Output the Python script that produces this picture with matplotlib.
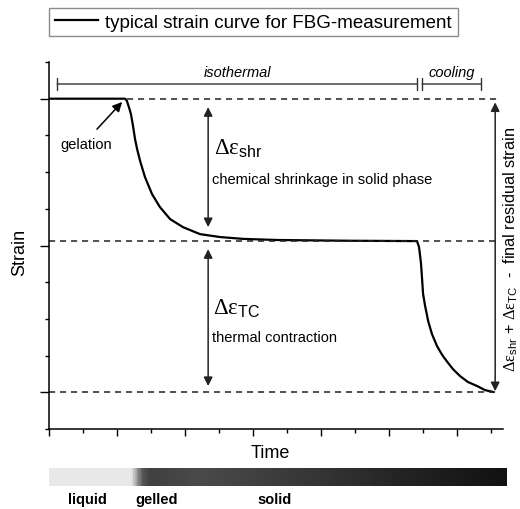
import matplotlib.pyplot as plt
import numpy as np
from matplotlib.colors import LinearSegmentedColormap
from matplotlib.ticker import MultipleLocator

plt.rcParams['font.family'] = ['Liberation Sans', 'DejaVu Sans']
plt.rcParams['mathtext.fontset'] = 'custom'
plt.rcParams['mathtext.rm'] = 'Liberation Serif'
plt.rcParams['mathtext.sf'] = 'Liberation Sans'
plt.rcParams['mathtext.it'] = 'Liberation Serif:italic'

# strain curve (arbitrary units)
time = [0.0, 2.24, 2.29, 2.35, 2.41, 2.47, 2.53, 2.59, 2.68, 2.82, 3.03, 3.26,
        3.56, 3.94, 4.44, 5.03, 5.71, 6.71, 8.80, 10.82,
        10.88, 10.91, 10.94, 10.97, 11.00, 11.06, 11.15, 11.26, 11.41, 11.56,
        11.71, 11.88, 12.09, 12.32, 12.59, 12.82, 13.06]
strain = [9.0, 9.0, 8.94, 8.77, 8.58, 8.26, 7.90, 7.63, 7.30, 6.87, 6.40, 6.05,
          5.72, 5.50, 5.31, 5.23, 5.18, 5.15, 5.13, 5.12,
          4.96, 4.74, 4.50, 4.09, 3.68, 3.35, 2.94, 2.59, 2.26, 2.02,
          1.83, 1.63, 1.44, 1.28, 1.17, 1.06, 1.01]

# reference strain levels
level_start = 9.0
level_cured = 5.12
level_final = 1.0

phase_names = ['isothermal', 'cooling']
phase_spans = [(0.24, 10.82), (10.97, 12.71)]

state_names = ['liquid', 'gelled', 'solid']
state_at = [0.085, 0.236, 0.493]          # fraction along the state bar

# grey level of the state bar (fraction, grey)
bar_stops = [(0.0, 0.91), (0.179, 0.91), (0.19, 0.62), (0.203, 0.33),
             (0.22, 0.25), (0.33, 0.29), (0.55, 0.22), (0.77, 0.14), (1.0, 0.07)]

dark = '#222222'

fig = plt.figure(figsize=(5.2, 5.1), dpi=100)
ax = fig.add_axes([49 / 520, 1 - 430 / 510, 454 / 520, 367 / 510])

ax.plot(time, strain, color='k', lw=1.6, solid_joinstyle='round',
        label='typical strain curve for FBG-measurement')

dash = dict(color=dark, lw=1.1, ls=(0, (4, 3.2)))
ax.plot([2.3, 13.24], [level_start, level_start], **dash)
ax.plot([0, 13.24], [level_cured, level_cured], **dash)
ax.plot([0, 13.2], [level_final, level_final], **dash)


def varrow(x, y0, y1):
    ax.annotate('', xy=(x, y0), xytext=(x, y1),
                arrowprops=dict(arrowstyle='<|-|>', color=dark, lw=1.1,
                                mutation_scale=13, shrinkA=0, shrinkB=0))


varrow(4.68, 8.77, 5.50)
varrow(4.68, 4.90, 1.17)
varrow(13.12, 8.9, 1.03)

ax.annotate('', xy=(2.15, 8.91), xytext=(1.41, 8.17),
            arrowprops=dict(arrowstyle='-|>', color='k', lw=1.1,
                            mutation_scale=14, shrinkA=0, shrinkB=0))
ax.text(1.09, 7.77, 'gelation', fontsize=10.5, ha='center', va='center')

ax.text(4.86, 7.49, r'$\mathrm{Δε}_{\mathsf{shr}}$', fontsize=16.5,
        ha='left', va='baseline')
ax.text(4.79, 6.81, 'chemical shrinkage in solid phase', fontsize=10.5,
        ha='left', va='center')
ax.text(4.82, 3.13, r'$\mathrm{Δε}_{\mathsf{TC}}$', fontsize=16.5,
        ha='left', va='baseline')
ax.text(4.79, 2.51, 'thermal contraction', fontsize=10.5,
        ha='left', va='center')

for name, (a, b) in zip(phase_names, phase_spans):
    ax.annotate('', xy=(a, 9.40), xytext=(b, 9.40),
                arrowprops=dict(arrowstyle='|-|, widthA=0.45, widthB=0.45',
                                color='#333333', lw=1.0,
                                mutation_scale=10, shrinkA=0, shrinkB=0))
    ax.text((a + b) / 2, 9.73, name, fontsize=10.5, style='italic',
            ha='center', va='center')

ax.text(1.0176, 0.493,
        r'$\mathrm{Δε}_{\mathsf{shr}}$ + $\mathrm{Δε}_{\mathsf{TC}}$  -  final residual strain',
        transform=ax.transAxes, rotation=90, fontsize=11.7,
        ha='center', va='center', clip_on=False)

ax.set_xlim(0, 13.35)
ax.set_ylim(0, 10)
ax.xaxis.set_major_locator(MultipleLocator(2))
ax.xaxis.set_minor_locator(MultipleLocator(1))
ax.set_yticks([1, 5, 9])
ax.set_yticks(range(0, 11), minor=True)
ax.tick_params(which='both', direction='out', width=1.0,
               labelleft=False, labelbottom=False)
ax.tick_params(axis='x', which='major', length=5)
ax.tick_params(axis='y', which='major', length=6.5)
ax.tick_params(which='minor', length=3)
for side in ['top', 'right']:
    ax.spines[side].set_visible(False)
for side in ['left', 'bottom']:
    ax.spines[side].set_linewidth(1.1)

ax.text(0.487, -0.065, 'Time', transform=ax.transAxes, fontsize=13,
        ha='center', va='center')
ax.text(-0.064, 0.485, 'Strain', transform=ax.transAxes, fontsize=13,
        rotation=90, ha='center', va='center')

fig.legend(loc='upper left', bbox_to_anchor=(49 / 520, 1 - 9 / 510),
           frameon=True, fancybox=False, edgecolor='#8c8c8c', framealpha=1,
           fontsize=13.5, handlelength=2.3, handletextpad=0.4,
           borderpad=0.3, borderaxespad=0)

# state bar below the time axis
cmap = LinearSegmentedColormap.from_list('state', [(p, str(g)) for p, g in bar_stops])
bar = fig.add_axes([49 / 520, 1 - 487 / 510, 458 / 520, 18 / 510])
bar.imshow(np.linspace(0, 1, 600)[None, :], cmap=cmap, aspect='auto',
           extent=[0, 1, 0, 1], vmin=0, vmax=1)
bar.set_xlim(0, 1)
bar.set_ylim(0, 1)
bar.axis('off')
for name, pos in zip(state_names, state_at):
    bar.text(pos, -0.72, name, fontsize=10.5, fontweight='bold',
             ha='center', va='center', transform=bar.transAxes)

fig.savefig('out.png', dpi=100)
